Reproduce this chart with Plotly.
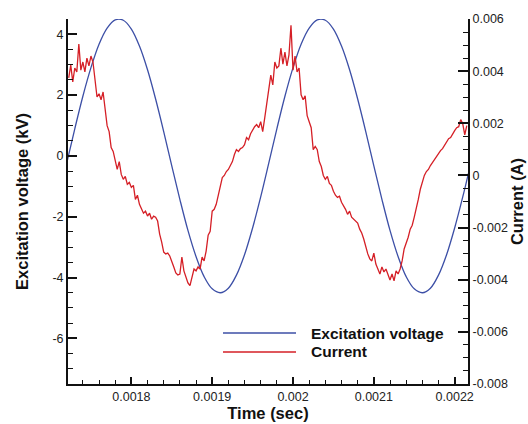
import numpy as np
import plotly.graph_objects as go

# ---- data ----
# Excitation voltage (kV), sampled every 10 microseconds starting at 1.72 ms
voltage_t_start = 0.00172
voltage_t_step = 0.00001
voltage_kV = [-0.24, 0.89, 1.96, 2.90, 3.67, 4.20, 4.47, 4.46, 4.17, 3.61,
              2.83, 1.87, 0.80, -0.33, -1.43, -2.45, -3.31, -3.97, -4.37, -4.50,
              -4.35, -3.92, -3.25, -2.37, -1.35, -0.24, 0.89, 1.96, 2.90, 3.67,
              4.20, 4.47, 4.46, 4.17, 3.61, 2.83, 1.87, 0.80, -0.33, -1.43,
              -2.45, -3.31, -3.97, -4.37, -4.50, -4.35, -3.92, -3.25, -2.37, -1.35,
              -0.24]

# Current (mA), sampled every 2.5 microseconds starting at 1.7225 ms
current_t_start = 0.0017225
current_t_step = 0.0000025
current_mA = [3.74, 4.23, 3.59, 4.12, 3.97, 5.04, 4.04, 4.35, 3.97, 4.50,
              4.20, 4.58, 4.35, 3.66, 3.01, 3.13, 2.90, 3.20, 2.52, 1.91,
              1.68, 1.07, 0.92, 0.61, 0.23, 0.53, 0.04, -0.15, -0.04, -0.34,
              -0.27, -0.46, -0.38, -0.92, -0.76, -1.11, -1.30, -1.45, -1.37, -1.56,
              -1.45, -1.68, -1.56, -1.60, -1.75, -2.25, -2.56, -2.94, -3.01, -2.98,
              -3.09, -3.28, -3.51, -3.74, -3.82, -3.78, -3.13, -3.66, -3.89, -4.12,
              -4.23, -3.89, -3.59, -3.66, -3.51, -3.59, -3.13, -3.28, -2.90, -2.29,
              -2.14, -1.37, -1.30, -1.11, -0.76, -0.53, -0.08, 0.00, 0.15, 0.23,
              0.38, 0.53, 0.80, 0.99, 0.92, 1.03, 1.07, 1.18, 1.45, 1.37,
              1.60, 1.75, 1.87, 1.95, 1.83, 2.06, 1.68, 2.21, 2.78, 3.28,
              3.85, 3.47, 4.35, 4.12, 4.20, 4.88, 4.27, 4.73, 4.20, 4.62,
              5.76, 4.04, 4.58, 3.97, 4.12, 3.09, 2.90, 3.05, 2.29, 2.06,
              1.83, 0.99, 1.11, 0.99, 0.53, 0.34, 0.00, -0.15, -0.04, -0.31,
              -0.38, -0.61, -0.76, -0.84, -0.80, -1.03, -1.14, -1.30, -1.49, -1.37,
              -1.60, -1.68, -1.75, -1.83, -2.06, -2.21, -2.44, -2.75, -3.01, -3.20,
              -3.28, -2.98, -3.40, -3.59, -3.78, -3.51, -3.70, -3.59, -3.82, -4.01,
              -3.78, -4.04, -3.66, -3.78, -3.59, -3.28, -2.82, -2.63, -2.37, -2.06,
              -1.91, -1.60, -1.30, -0.92, -0.53, -0.23, 0.00, 0.15, 0.23, 0.38,
              0.50, 0.61, 0.72, 0.84, 0.95, 1.03, 1.14, 1.26, 1.41, 1.45,
              1.60, 1.72, 1.83, 1.87, 2.14, 1.98, 1.56, 1.91]

series_names = ["Excitation voltage", "Current"]

x_tick_vals = [0.0018, 0.0019, 0.0020, 0.0021, 0.0022]
x_tick_text = ["0.0018", "0.0019", "0.002", "0.0021", "0.0022"]
yl_tick_vals = [-6, -4, -2, 0, 2, 4]
yl_tick_text = ["-6", "-4", "-2", "0", "2", "4"]
yr_tick_vals = [-0.008, -0.006, -0.004, -0.002, 0, 0.002, 0.004, 0.006]
yr_tick_text = ["-0.008", "-0.006", "-0.004", "-0.002", "0", "0.002", "0.004", "0.006"]

voltage_t = voltage_t_start + voltage_t_step * np.arange(len(voltage_kV))
current_t = current_t_start + current_t_step * np.arange(len(current_mA))
current_A = np.array(current_mA) / 1000.0

BLUE = "#3c4fa6"
RED = "#d51f26"
COLORS = [BLUE, RED]
FONT = "Liberation Sans, Arial, Helvetica, sans-serif"

fig = go.Figure()
fig.add_trace(go.Scatter(x=voltage_t, y=voltage_kV, mode="lines",
                         name=series_names[0],
                         line=dict(color=BLUE, width=1.3, shape="spline"),
                         yaxis="y", showlegend=False))
fig.add_trace(go.Scatter(x=current_t, y=current_A, mode="lines",
                         name=series_names[1],
                         line=dict(color=RED, width=1.3),
                         yaxis="y2", showlegend=False))

axis_common = dict(showline=True, linewidth=2, linecolor="#111", showgrid=False,
                   zeroline=False, ticks="inside", tickcolor="#111", automargin=False,
                   tickfont=dict(size=12.5, color="#222", family=FONT))
title_font = dict(size=16.5, weight="bold", color="#111", family=FONT)

# Legend drawn in paper coordinates (long sample lines as in the reference)
legend_rows_y = [0.1397, 0.0877]
legend_shapes = [dict(type="line", xref="paper", yref="paper",
                      x0=0.3875, x1=0.57, y0=yy, y1=yy,
                      line=dict(color=cc, width=1.3))
                 for yy, cc in zip(legend_rows_y, COLORS)]
legend_labels = [dict(xref="paper", yref="paper", x=0.6025, y=yy,
                      xanchor="left", yanchor="middle", showarrow=False,
                      text=nm, font=dict(size=15.5, weight="bold", color="#111", family=FONT))
                 for yy, nm in zip(legend_rows_y, series_names)]

fig.update_layout(
    width=528, height=424,
    margin=dict(l=68, r=60, t=19, b=40),
    plot_bgcolor="white", paper_bgcolor="white",
    font=dict(family=FONT, size=12.5, color="#222"),
    xaxis=dict(range=[0.0017216, 0.0022165], tickmode="array",
               tickvals=x_tick_vals, ticktext=x_tick_text,
               ticklen=7, tickwidth=1.5,
               minor=dict(tickmode="linear", tick0=0.0018, dtick=0.00002,
                          ticks="inside", ticklen=4, tickwidth=1, tickcolor="#111"),
               title=dict(text="Time (sec)", standoff=3, font=title_font),
               **axis_common),
    yaxis=dict(range=[-7.5, 4.5], tickmode="array",
               tickvals=yl_tick_vals, ticktext=yl_tick_text,
               ticklen=9, tickwidth=1.5,
               minor=dict(tickmode="linear", tick0=0, dtick=0.5,
                          ticks="inside", ticklen=5, tickwidth=1, tickcolor="#111"),
               title=dict(text="Excitation voltage (kV)", standoff=20, font=title_font),
               **axis_common),
    yaxis2=dict(range=[-0.008, 0.006], overlaying="y", side="right",
                tickmode="array", tickvals=yr_tick_vals, ticktext=yr_tick_text,
                ticklen=10, tickwidth=1.5,
                minor=dict(tickmode="linear", tick0=0, dtick=0.0005,
                           ticks="inside", ticklen=5, tickwidth=1, tickcolor="#111"),
                title=dict(text="Current (A)", standoff=3, font=title_font),
                **axis_common),
    shapes=legend_shapes,
    annotations=legend_labels,
    showlegend=False,
)

fig.write_html("out.html")
